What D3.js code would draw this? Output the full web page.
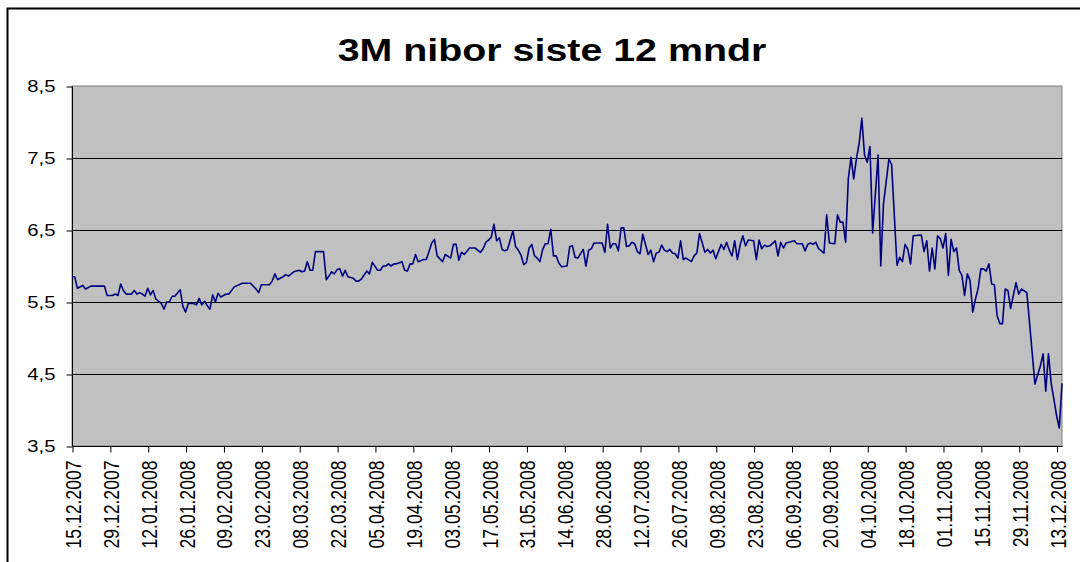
<!DOCTYPE html>
<html>
<head>
<meta charset="utf-8">
<script src="https://cdn.jsdelivr.net/npm/d3@7"></script>
<style>
  html, body { margin: 0; padding: 0; background: #fff; }
  svg { display: block; font-family: "Liberation Sans", Arial, sans-serif; }
</style>
</head>
<body>
<svg id="chart" width="1080" height="562"></svg>
<script>
// 3M NIBOR
const dates = [
  "15.12.2007","16.12.2007","17.12.2007","19.12.2007","20.12.2007","22.12.2007","27.12.2007","28.12.2007","30.12.2007","31.12.2007",
  "01.01.2008","02.01.2008","03.01.2008","04.01.2008","06.01.2008","07.01.2008","08.01.2008","09.01.2008","10.01.2008","11.01.2008",
  "12.01.2008","13.01.2008","14.01.2008","15.01.2008","17.01.2008","18.01.2008","19.01.2008","20.01.2008","21.01.2008","22.01.2008",
  "24.01.2008","25.01.2008","26.01.2008","27.01.2008","29.01.2008","30.01.2008","31.01.2008","01.02.2008","02.02.2008","03.02.2008",
  "04.02.2008","05.02.2008","06.02.2008","07.02.2008","08.02.2008","10.02.2008","11.02.2008","13.02.2008","16.02.2008","19.02.2008",
  "21.02.2008","22.02.2008","23.02.2008","26.02.2008","27.02.2008","28.02.2008","29.02.2008","02.03.2008","03.03.2008","04.03.2008",
  "06.03.2008","08.03.2008","09.03.2008","10.03.2008","11.03.2008","12.03.2008","13.03.2008","14.03.2008","17.03.2008","18.03.2008",
  "19.03.2008","20.03.2008","21.03.2008","22.03.2008","23.03.2008","24.03.2008","25.03.2008","26.03.2008","28.03.2008","29.03.2008",
  "30.03.2008","31.03.2008","02.04.2008","03.04.2008","04.04.2008","06.04.2008","07.04.2008","08.04.2008","09.04.2008","10.04.2008",
  "11.04.2008","12.04.2008","13.04.2008","15.04.2008","16.04.2008","17.04.2008","18.04.2008","19.04.2008","20.04.2008","21.04.2008",
  "23.04.2008","24.04.2008","26.04.2008","27.04.2008","28.04.2008","30.04.2008","01.05.2008","03.05.2008","04.05.2008","05.05.2008",
  "06.05.2008","07.05.2008","08.05.2008","10.05.2008","12.05.2008","14.05.2008","15.05.2008","16.05.2008","17.05.2008","18.05.2008",
  "19.05.2008","20.05.2008","21.05.2008","22.05.2008","23.05.2008","24.05.2008","26.05.2008","27.05.2008","28.05.2008","29.05.2008",
  "30.05.2008","31.05.2008","01.06.2008","02.06.2008","03.06.2008","04.06.2008","05.06.2008","06.06.2008","07.06.2008","08.06.2008",
  "09.06.2008","10.06.2008","11.06.2008","12.06.2008","13.06.2008","15.06.2008","16.06.2008","17.06.2008","18.06.2008","19.06.2008",
  "21.06.2008","22.06.2008","23.06.2008","24.06.2008","25.06.2008","28.06.2008","29.06.2008","30.06.2008","01.07.2008","02.07.2008",
  "03.07.2008","04.07.2008","05.07.2008","06.07.2008","07.07.2008","08.07.2008","09.07.2008","10.07.2008","11.07.2008","12.07.2008",
  "13.07.2008","15.07.2008","16.07.2008","17.07.2008","18.07.2008","19.07.2008","20.07.2008","21.07.2008","22.07.2008","23.07.2008",
  "24.07.2008","25.07.2008","26.07.2008","27.07.2008","28.07.2008","29.07.2008","31.07.2008","01.08.2008","02.08.2008","03.08.2008",
  "05.08.2008","06.08.2008","07.08.2008","08.08.2008","09.08.2008","11.08.2008","12.08.2008","13.08.2008","14.08.2008","15.08.2008",
  "16.08.2008","17.08.2008","18.08.2008","19.08.2008","20.08.2008","21.08.2008","23.08.2008","24.08.2008","25.08.2008","26.08.2008",
  "27.08.2008","28.08.2008","29.08.2008","31.08.2008","01.09.2008","02.09.2008","03.09.2008","04.09.2008","06.09.2008","07.09.2008",
  "08.09.2008","10.09.2008","11.09.2008","12.09.2008","13.09.2008","14.09.2008","15.09.2008","16.09.2008","18.09.2008","19.09.2008",
  "20.09.2008","22.09.2008","23.09.2008","24.09.2008","25.09.2008","26.09.2008","27.09.2008","28.09.2008","29.09.2008","30.09.2008",
  "01.10.2008","02.10.2008","03.10.2008","04.10.2008","05.10.2008","06.10.2008","08.10.2008","09.10.2008","10.10.2008","12.10.2008",
  "13.10.2008","15.10.2008","16.10.2008","17.10.2008","18.10.2008","19.10.2008","20.10.2008","21.10.2008","24.10.2008","25.10.2008",
  "26.10.2008","27.10.2008","28.10.2008","29.10.2008","30.10.2008","31.10.2008","01.11.2008","02.11.2008","03.11.2008","04.11.2008",
  "05.11.2008","06.11.2008","07.11.2008","08.11.2008","09.11.2008","10.11.2008","11.11.2008","12.11.2008","13.11.2008","14.11.2008",
  "15.11.2008","16.11.2008","17.11.2008","18.11.2008","19.11.2008","20.11.2008","21.11.2008","22.11.2008","23.11.2008","24.11.2008",
  "25.11.2008","26.11.2008","28.11.2008","29.11.2008","30.11.2008","02.12.2008","03.12.2008","05.12.2008","07.12.2008","08.12.2008",
  "09.12.2008","10.12.2008","11.12.2008","12.12.2008","13.12.2008","14.12.2008","15.12.2008"
];

const nibor = [
  5.85,5.85,5.69,5.73,5.68,5.72,5.72,5.59,5.59,5.61,
  5.59,5.75,5.66,5.61,5.61,5.66,5.61,5.63,5.61,5.58,
  5.69,5.60,5.66,5.54,5.48,5.40,5.50,5.50,5.58,5.58,
  5.67,5.44,5.36,5.48,5.48,5.46,5.55,5.46,5.51,5.45,
  5.40,5.60,5.50,5.62,5.57,5.61,5.61,5.71,5.76,5.76,
  5.68,5.63,5.74,5.74,5.79,5.89,5.81,5.85,5.88,5.86,
  5.92,5.94,5.92,5.93,6.06,5.94,5.94,6.20,6.20,5.81,
  5.86,5.92,5.89,5.95,5.96,5.86,5.94,5.85,5.83,5.79,
  5.79,5.82,5.93,5.89,6.05,5.94,5.94,6.00,6.00,6.03,
  6.00,6.03,6.03,6.06,5.94,5.93,6.03,6.03,6.16,6.06,
  6.09,6.09,6.32,6.37,6.14,6.06,6.16,6.11,6.30,6.30,
  6.08,6.19,6.16,6.25,6.25,6.19,6.24,6.33,6.36,6.40,
  6.58,6.35,6.39,6.23,6.21,6.23,6.49,6.27,6.22,6.15,
  6.02,6.05,6.25,6.30,6.14,6.11,6.06,6.23,6.31,6.31,
  6.51,6.14,6.14,6.04,5.99,6.00,6.27,6.28,6.12,6.11,
  6.23,6.00,6.22,6.24,6.32,6.32,6.19,6.58,6.25,6.31,
  6.31,6.21,6.53,6.53,6.27,6.28,6.33,6.31,6.20,6.17,
  6.44,6.16,6.22,6.06,6.18,6.19,6.29,6.22,6.20,6.23,
  6.18,6.17,6.11,6.35,6.09,6.11,6.06,6.14,6.18,6.45,
  6.19,6.23,6.18,6.22,6.10,6.30,6.23,6.33,6.22,6.14,
  6.35,6.09,6.29,6.42,6.28,6.36,6.35,6.09,6.36,6.24,
  6.29,6.27,6.28,6.35,6.14,6.33,6.25,6.32,6.34,6.35,
  6.31,6.31,6.21,6.30,6.32,6.30,6.33,6.24,6.18,6.71,
  6.32,6.31,6.71,6.61,6.61,6.33,7.21,7.51,7.21,7.49,
  7.70,8.05,7.54,7.44,7.66,6.46,7.54,6.00,6.86,7.48,
  7.41,6.01,6.12,6.06,6.30,6.23,6.03,6.42,6.43,6.20,
  6.35,5.93,6.25,5.96,6.42,6.38,6.25,6.45,5.87,6.37,
  6.20,6.25,5.94,5.87,5.59,5.89,5.80,5.36,5.54,5.69,
  5.96,5.96,5.93,6.03,5.75,5.74,5.31,5.20,5.20,5.68,
  5.66,5.41,5.77,5.61,5.68,5.63,5.21,4.36,4.61,4.78,
  4.26,4.78,4.37,4.15,3.92,3.75,4.37
];

const xTickLabels = [
  "15.12.2007","29.12.2007","12.01.2008","26.01.2008","09.02.2008","23.02.2008","08.03.2008",
  "22.03.2008","05.04.2008","19.04.2008","03.05.2008","17.05.2008","31.05.2008","14.06.2008",
  "28.06.2008","12.07.2008","26.07.2008","09.08.2008","23.08.2008","06.09.2008","20.09.2008",
  "04.10.2008","18.10.2008","01.11.2008","15.11.2008","29.11.2008","13.12.2008"
];
const yTickValues = [3.5, 4.5, 5.5, 6.5, 7.5, 8.5];
const xStart = "15.12.2007", xEnd = "15.12.2008";
const title = "3M nibor siste 12 mndr";

const parse = d3.timeParse("%d.%m.%Y");
const fmt = d3.timeFormat("%d.%m.%Y");
const series = dates.map((d, i) => ({ date: parse(d), value: nibor[i] }));

// the source picture is stretched sideways, text included
const stretch = 1.23;

const svg = d3.select("#chart");
const plot = { left: 72, right: 1062, top: 86, bottom: 446 };

const x = d3.scaleTime()
  .domain([parse(xStart), parse(xEnd)])
  .range([plot.left, plot.right]);
const y = d3.scaleLinear()
  .domain([3.5, 8.5])
  .range([plot.bottom, plot.top]);

// outer frame (runs off the picture on the right and bottom)
svg.append("rect")
  .attr("x", 7.5).attr("y", 8.5)
  .attr("width", 1100).attr("height", 600)
  .attr("fill", "#fff")
  .attr("stroke", "#000")
  .attr("stroke-width", 2);

svg.append("text")
  .attr("transform", `translate(552,61) scale(${stretch},1)`)
  .attr("text-anchor", "middle")
  .attr("font-size", 32)
  .attr("font-weight", "bold")
  .text(title);

// plot area
svg.append("rect")
  .attr("x", plot.left).attr("y", plot.top)
  .attr("width", plot.right - plot.left).attr("height", plot.bottom - plot.top)
  .attr("fill", "#c0c0c0")
  .attr("stroke", "#808080")
  .attr("stroke-width", 1);

// grid
svg.append("g")
  .selectAll("line")
  .data(yTickValues.slice(1, -1))
  .join("line")
  .attr("x1", plot.left).attr("x2", plot.right)
  .attr("y1", d => Math.round(y(d)) + 0.5).attr("y2", d => Math.round(y(d)) + 0.5)
  .attr("stroke", "#000")
  .attr("stroke-width", 1);

// y axis
const yAxis = d3.axisLeft(y)
  .tickValues(yTickValues)
  .tickSize(6)
  .tickFormat(d => d3.format(".1f")(d).replace(".", ","));

svg.append("g")
  .attr("transform", `translate(${plot.left + 0.5},0.5)`)
  .call(yAxis)
  .call(g => g.select(".domain").attr("d", `M0,${plot.top}V${plot.bottom}`).attr("stroke", "#000"))
  .call(g => g.selectAll("line").attr("stroke", "#000"))
  .call(g => g.selectAll("text")
    .attr("font-size", 16.5)
    .attr("font-family", null)
    .attr("fill", "#000")
    .attr("x", 0)
    .attr("transform", `translate(-17,0) scale(${stretch},1)`));

// x axis
const xAxis = d3.axisBottom(x)
  .tickValues(xTickLabels.map(parse))
  .tickSize(6)
  .tickFormat(fmt);

svg.append("g")
  .attr("transform", `translate(0.5,${plot.bottom + 0.5})`)
  .call(xAxis)
  .call(g => g.select(".domain").attr("d", `M${plot.left},0H${plot.right}`).attr("stroke", "#000"))
  .call(g => g.selectAll("line").attr("stroke", "#000"))
  .call(g => g.selectAll("text")
    .attr("font-size", 17.6)
    .attr("font-family", null)
    .attr("fill", "#000")
    .attr("text-anchor", "end")
    .attr("dy", null)
    .attr("y", 0)
    .attr("transform", `translate(8,14) scale(${stretch},1) rotate(-90)`));

// series
const line = d3.line()
  .x(d => x(d.date))
  .y(d => y(d.value));

svg.append("path")
  .datum(series)
  .attr("d", line)
  .attr("fill", "none")
  .attr("stroke", "#000080")
  .attr("stroke-width", 1.6)
  .attr("stroke-linejoin", "round");
</script>
</body>
</html>
